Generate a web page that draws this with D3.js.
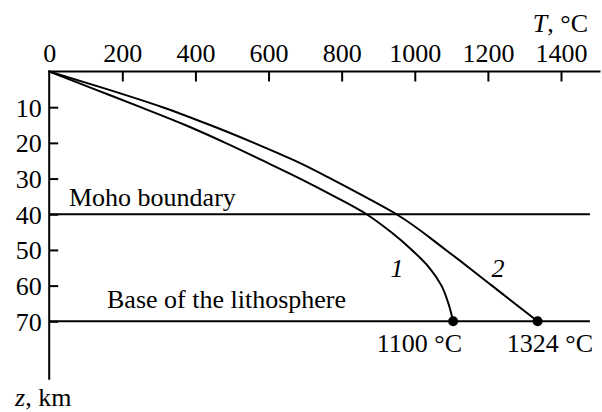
<!DOCTYPE html>
<html>
<head>
<meta charset="utf-8">
<script src="https://cdn.jsdelivr.net/npm/d3@7"></script>
<style>
  html, body { margin: 0; padding: 0; background: #fff; }
  svg { display: block; }
  text { font-family: "Liberation Serif", "Times New Roman", serif; fill: #000; }
</style>
</head>
<body>
<svg id="chart" width="602" height="412"></svg>
<script>
// ---- data ----
const tempTicks = [0, 200, 400, 600, 800, 1000, 1200, 1400];
const depthTicks = [10, 20, 30, 40, 50, 60, 70];
const curve1T = [0, 125, 250, 372, 482, 585, 686, 780, 868, 935, 992, 1040, 1073, 1092, 1105];
const curve1Z = [0, 5, 10, 15, 20, 25, 30, 35, 40, 45, 50, 55, 60, 65, 70];
const curve2T = [0, 160, 310, 440, 560, 672, 770, 862, 950, 1085, 1211, 1336];
const curve2Z = [0, 5, 10, 15, 20, 25, 30, 35, 40, 50, 60, 70];
const boundaryDepths = [40, 70];
const boundaryLabels = ["Moho boundary", "Base of the lithosphere"];
const endLabels = ["1100 °C", "1324 °C"];
const curveLabels = ["1", "2"];

// ---- scales ----
const x = d3.scaleLinear().domain([0, 1400]).range([49.2, 561]);
const y = d3.scaleLinear().domain([0, 70]).range([71.5, 321.3]);

const svg = d3.select("#chart");
const FS = 26;

// top axis
const xAxis = d3.axisTop(x).tickValues(tempTicks).tickFormat(d3.format("d"))
  .tickSizeInner(-10).tickSizeOuter(0).tickPadding(10);
const gx = svg.append("g").attr("transform", `translate(0,${y(0)})`).call(xAxis);
gx.select(".domain").remove();
gx.selectAll(".tick line").attr("stroke", "#000").attr("stroke-width", 2);
gx.selectAll(".tick text").attr("font-size", FS).attr("font-family", "Liberation Serif").attr("fill", "#000");
gx.selectAll(".tick").filter(d => d === 0).select("line").remove();
svg.append("line")
  .attr("x1", x(0) - 1).attr("x2", x(1508))
  .attr("y1", y(0)).attr("y2", y(0))
  .attr("stroke", "#000").attr("stroke-width", 2);

// left axis
const yAxis = d3.axisLeft(y).tickValues(depthTicks).tickSizeInner(-9).tickSizeOuter(0).tickPadding(7.5);
const gy = svg.append("g").attr("transform", `translate(${x(0)},0)`).call(yAxis);
gy.select(".domain").remove();
gy.selectAll(".tick line").attr("stroke", "#000").attr("stroke-width", 2);
gy.selectAll(".tick text").attr("font-size", FS).attr("font-family", "Liberation Serif").attr("fill", "#000").attr("dy", "0.34em");
svg.append("line")
  .attr("x1", x(0)).attr("x2", x(0))
  .attr("y1", y(0) - 1).attr("y2", y(86.4))
  .attr("stroke", "#000").attr("stroke-width", 2);

// boundary lines
svg.selectAll("line.boundary").data(boundaryDepths).enter().append("line")
  .attr("class", "boundary")
  .attr("x1", x(0)).attr("x2", x(1479))
  .attr("y1", d => y(d)).attr("y2", d => y(d))
  .attr("stroke", "#000").attr("stroke-width", 2);

// boundary labels
svg.append("text").attr("x", 69).attr("y", 206).attr("font-size", FS).text(boundaryLabels[0]);
svg.append("text").attr("x", 107).attr("y", 307.5).attr("font-size", FS).text(boundaryLabels[1]);

// curves
const line = d3.line().x(d => x(d[0])).y(d => y(d[1])).curve(d3.curveMonotoneY);
const c1 = curve1T.map((t, i) => [t, curve1Z[i]]);
const c2 = curve2T.map((t, i) => [t, curve2Z[i]]);
[c1, c2].forEach(c => {
  svg.append("path").datum(c).attr("d", line)
    .attr("fill", "none").attr("stroke", "#000").attr("stroke-width", 2);
});

// end dots
const ends = [c1[c1.length - 1], c2[c2.length - 1]];
svg.selectAll("circle.end").data(ends).enter().append("circle")
  .attr("class", "end")
  .attr("cx", d => x(d[0])).attr("cy", d => y(d[1])).attr("r", 5).attr("fill", "#000");

// end labels
svg.append("text").attr("x", 462).attr("y", 352).attr("text-anchor", "end").attr("font-size", FS).text(endLabels[0]);
svg.append("text").attr("x", 593).attr("y", 352).attr("text-anchor", "end").attr("font-size", FS).text(endLabels[1]);

// curve number labels
svg.append("text").attr("x", 397).attr("y", 277).attr("text-anchor", "middle").attr("font-size", FS).attr("font-style", "italic").text(curveLabels[0]);
svg.append("text").attr("x", 498).attr("y", 277).attr("text-anchor", "middle").attr("font-size", FS).attr("font-style", "italic").text(curveLabels[1]);

// axis titles
const tT = svg.append("text").attr("x", 588).attr("y", 32).attr("text-anchor", "end").attr("font-size", FS);
tT.append("tspan").attr("font-style", "italic").text("T");
tT.append("tspan").text(", °C");
const tZ = svg.append("text").attr("x", 15).attr("y", 406).attr("font-size", FS);
tZ.append("tspan").attr("font-style", "italic").text("z");
tZ.append("tspan").text(", km");
</script>
</body>
</html>
